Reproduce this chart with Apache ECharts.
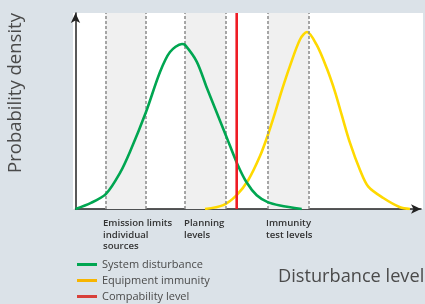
<!DOCTYPE html>
<html>
<head>
<meta charset="utf-8">
<script src="https://cdn.jsdelivr.net/npm/echarts@6/dist/echarts.min.js"></script>
<style>
  html, body { margin: 0; padding: 0; background: #dbe2e8; }
  #chart { width: 425px; height: 304px; }
</style>
</head>
<body>
<div id="chart"></div>
<script>
// disturbance level (arbitrary units) vs probability density (0-100)
var systemDisturbance = [
    [0, 0], [15.5, 3.1], [30.5, 7.7], [44.5, 18.4], [54.5, 29.2], [70.5, 49.5],
    [84.5, 69.9], [94.5, 80.1], [106.5, 84.2], [109.5, 83.7], [121.2, 75.2],
    [131.2, 62], [140.2, 50.5], [151.2, 36.5], [161.8, 23], [171.2, 13.5],
    [181.2, 7], [192.2, 3.5], [204.5, 1.8], [226.2, 0]
];
var equipmentImmunity = [
    [129.5, 0], [147.8, 2.0], [161.2, 7.1], [172.8, 14.8], [184.5, 27],
    [192.2, 37.5], [199.5, 49], [206, 60], [214.5, 73], [224.5, 86.5],
    [231.5, 90.3], [241.2, 83.7], [251.2, 71.9], [259.5, 59.8], [266.2, 48.0],
    [274.5, 33.7], [284.5, 19.9], [292.8, 11.4], [307.8, 5.6], [324.5, 0.9], [334.5, 0]
];
var compatibilityLevel = [[161.2, 0], [161.2, 100]];
var dashedLevels = [30, 70.5, 109.5, 150.5, 192.5, 233.5];
var shadedBands = [[30, 70.5], [109.5, 150.5], [192.5, 233.5]];
var levelLabelPos = [27.5, 108.5, 190.5];
var levelLabels = ['Emission limits\nindividual\nsources', 'Planning\nlevels', 'Immunity\ntest levels'];
var seriesNames = ['System disturbance', 'Equipment immunity', 'Compability level'];

var myChart = echarts.init(document.getElementById('chart'));
var option = {
    backgroundColor: '#dbe2e8',
    animation: false,
    textStyle: { fontFamily: 'Open Sans' },
    graphic: [
        {
            type: 'rect', z: -1, silent: true,
            shape: { x: 73, y: 13, width: 350, height: 196 },
            style: { fill: '#ffffff' }
        },
        {
            type: 'text', x: 16, y: 93, rotation: Math.PI / 2,
            style: {
                text: 'Probability density', fontSize: 18.5, fontFamily: 'Open Sans',
                fill: '#4a4a4a', align: 'center', verticalAlign: 'middle'
            }
        },
        {
            type: 'text', x: 278, y: 277,
            style: {
                text: 'Disturbance level', fontSize: 18.2, fontFamily: 'Open Sans',
                fill: '#4a4a4a', align: 'left', verticalAlign: 'middle'
            }
        }
    ],
    legend: {
        orient: 'vertical',
        left: 77,
        top: 258,
        height: 50,
        padding: 0,
        itemWidth: 20,
        itemHeight: 3,
        itemGap: 3,
        textStyle: { fontSize: 11, color: '#4a4a4a', lineHeight: 13, fontFamily: 'Open Sans' },
        data: [
            { name: seriesNames[0], icon: 'rect', itemStyle: { color: '#00a651' } },
            { name: seriesNames[1], icon: 'rect', itemStyle: { color: '#f7b500' } },
            { name: seriesNames[2], icon: 'rect', itemStyle: { color: '#d8403a' } }
        ]
    },
    grid: { left: 75.5, right: 4, top: 13, bottom: 95 },
    xAxis: {
        type: 'value',
        min: 0,
        max: 345.5,
        splitLine: { show: false },
        axisTick: { show: false },
        axisLine: {
            lineStyle: { color: '#222', width: 1.5 },
            symbol: ['none', 'arrow'],
            symbolSize: [7, 10]
        },
        axisLabel: {
            customValues: levelLabelPos,
            align: 'left',
            verticalAlign: 'top',
            margin: 9,
            fontSize: 9.6,
            fontWeight: 600,
            lineHeight: 11.5,
            color: '#333',
            formatter: function (v) {
                var i = levelLabelPos.indexOf(v);
                return i >= 0 ? levelLabels[i] : '';
            }
        }
    },
    yAxis: {
        type: 'value',
        min: 0,
        max: 100,
        splitLine: { show: false },
        axisTick: { show: false },
        axisLabel: { show: false },
        axisLine: {
            show: true,
            lineStyle: { color: '#222', width: 1.5 },
            symbol: ['none', 'arrow'],
            symbolSize: [7, 10]
        }
    },
    series: [
        {
            name: seriesNames[0],
            type: 'line',
            data: systemDisturbance,
            smooth: 0.3,
            showSymbol: false,
            z: 5,
            lineStyle: { color: '#00a651', width: 2.6 },
            itemStyle: { color: '#00a651' },
            markArea: {
                silent: true,
                itemStyle: { color: '#f0f0f0' },
                data: shadedBands.map(function (b) { return [{ xAxis: b[0] }, { xAxis: b[1] }]; })
            },
            markLine: {
                silent: true,
                symbol: 'none',
                label: { show: false },
                lineStyle: { color: '#8a8a8a', width: 1.5, type: [3, 2] },
                data: dashedLevels.map(function (v) { return { xAxis: v }; })
            }
        },
        {
            name: seriesNames[1],
            type: 'line',
            data: equipmentImmunity,
            smooth: 0.3,
            showSymbol: false,
            z: 4,
            lineStyle: { color: '#ffd900', width: 2.6 },
            itemStyle: { color: '#ffd900' }
        },
        {
            name: seriesNames[2],
            type: 'line',
            data: compatibilityLevel,
            showSymbol: false,
            z: 6,
            lineStyle: { color: '#ee1c25', width: 2.6 },
            itemStyle: { color: '#ee1c25' }
        }
    ]
};
myChart.setOption(option);
</script>
</body>
</html>
